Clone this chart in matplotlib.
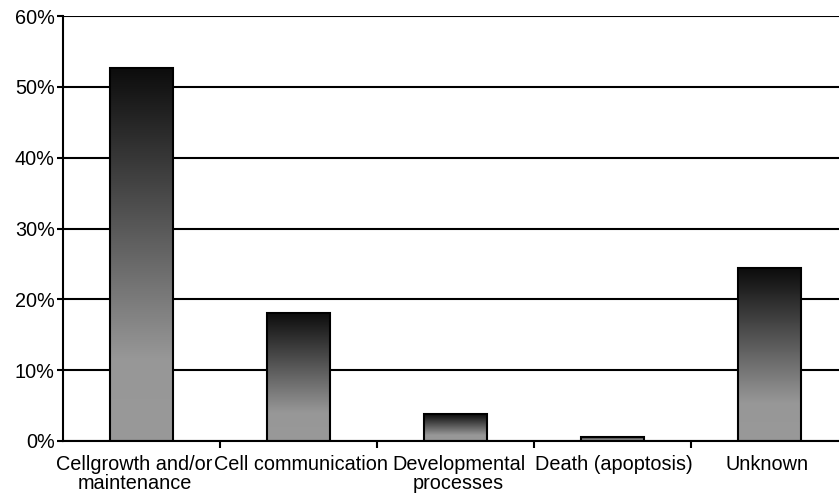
import matplotlib.pyplot as plt
import numpy as np
from matplotlib.colors import LinearSegmentedColormap
from matplotlib.ticker import PercentFormatter
from matplotlib.transforms import ScaledTranslation

categories = ["Cellgrowth and/or\nmaintenance", "Cell communication",
              "Developmental\nprocesses", "Death (apoptosis)", "Unknown"]
values = [52.7, 18.1, 3.8, 0.6, 24.4]
yticks = [0, 10, 20, 30, 40, 50, 60]

plt.rcParams["font.family"] = ["Liberation Sans", "DejaVu Sans"]
plt.rcParams["font.size"] = 14.3

fig = plt.figure(figsize=(8.39, 4.96), dpi=100)
ax = fig.add_axes([0.0751, 0.1109, 1 - 0.0751, 0.9677 - 0.1109])

# dark at the top of each bar, fading to a flat grey near the bottom
grad = LinearSegmentedColormap.from_list(
    "bar", [(0.0, "#999999"), (0.22, "#979797"), (1.0, "#0c0c0c")])
ramp = np.linspace(0, 1, 256).reshape(-1, 1)

width = 0.4
x = np.arange(len(categories))
bars = ax.bar(x, values, width=width, facecolor="none",
              edgecolor="black", linewidth=1.5, zorder=3)
for b in bars:
    x0, y0 = b.get_x(), b.get_y()
    im = ax.imshow(ramp, cmap=grad, origin="lower", aspect="auto",
                   extent=[x0, x0 + b.get_width(), y0, y0 + b.get_height()],
                   zorder=2, interpolation="bilinear")
    im.set_clip_path(b)

ax.set_xlim(-0.5, 4.5 - 9 / 157)
ax.set_ylim(0, 60)
ax.set_yticks(yticks)
ax.yaxis.set_major_formatter(PercentFormatter(decimals=0))
ax.yaxis.grid(True, color="black", linewidth=1.5, zorder=1)
ax.set_axisbelow(True)

ax.set_xticks(x)
ax.set_xticklabels(categories, linespacing=1.0)
ax.set_xticks(np.arange(0.5, 4.5, 1), minor=True)
ax.tick_params(axis="x", which="major", length=0, pad=10)
ax.tick_params(axis="x", which="minor", length=5, width=1.5, direction="out")
ax.tick_params(axis="y", length=4, width=1.5, direction="out", pad=2)

# small horizontal nudges so the wrapped labels sit like the originals
shifts = [-7, 2, 3, 1, -2]
for lab, dx in zip(ax.get_xticklabels(), shifts):
    lab.set_transform(lab.get_transform() +
                      ScaledTranslation(dx / 100, 0, fig.dpi_scale_trans))

for side in ["top", "right"]:
    ax.spines[side].set_visible(False)
for side in ["left", "bottom"]:
    ax.spines[side].set_linewidth(1.5)

fig.savefig("out.png", dpi=100)
